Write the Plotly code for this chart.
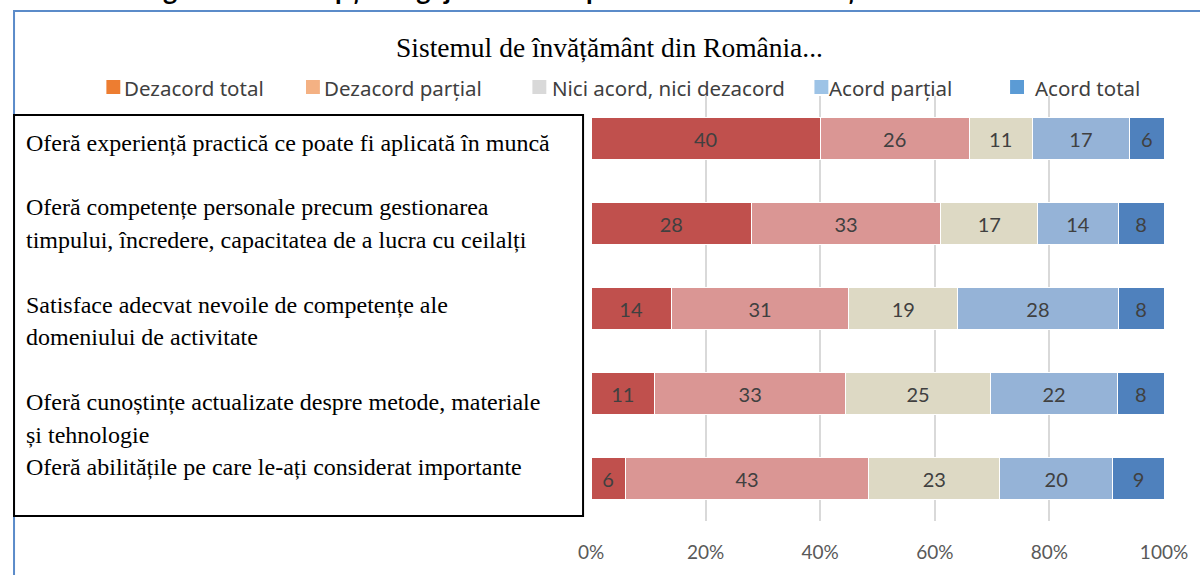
import plotly.graph_objects as go

# chart data (in percent of respondents)
categories = [
    "Oferă experiență practică ce poate fi aplicată în muncă",
    "Oferă competențe personale precum gestionarea timpului, încredere, capacitatea de a lucra cu ceilalți",
    "Satisface adecvat nevoile de competențe ale domeniului de activitate",
    "Oferă cunoștințe actualizate despre metode, materiale și tehnologie",
    "Oferă abilitățile pe care le-ați considerat importante",
]
series_names = ["Dezacord total", "Dezacord parțial", "Nici acord, nici dezacord",
                "Acord parțial", "Acord total"]
dezacord_total = [40, 28, 14, 11, 6]
dezacord_partial = [26, 33, 31, 33, 43]
nici = [11, 17, 19, 25, 23]
acord_partial = [17, 14, 28, 22, 20]
acord_total = [6, 8, 8, 8, 9]
x_ticks = [0, 20, 40, 60, 80, 100]
x_tick_labels = ["0%", "20%", "40%", "60%", "80%", "100%"]

# text of the left-hand box, as it is wrapped in the picture
box_lines = [
    ["Oferă experiență practică ce poate fi aplicată în muncă"],
    ["Oferă competențe personale precum gestionarea",
     "timpului, încredere, capacitatea de a lucra cu ceilalți"],
    ["Satisface adecvat nevoile de competențe ale",
     "domeniului de activitate"],
    ["Oferă cunoștințe actualizate despre metode, materiale",
     "și tehnologie"],
    ["Oferă abilitățile pe care le-ați considerat importante"],
]

chart_title = "Sistemul de învățământ din România..."
figure_title = "Figura 10: Percepția angajatorilor asupra sistemului de învățământ din România"

bar_colors = ["#C0504D", "#DA9694", "#DDD9C4", "#95B3D7", "#4F81BD"]
legend_colors = ["#ED7D31", "#F4B183", "#D9D9D9", "#9DC3E6", "#5B9BD5"]

W_PX, H_PX = 1200, 575
L, R, T, B = 591, 32, 96, 54
PW, PH = W_PX - L - R, H_PX - T - B


def px_x(px):
    return (px - L) / PW


def px_y(py):
    return (H_PX - B - py) / PH


fig = go.Figure()
all_values = [dezacord_total, dezacord_partial, nici, acord_partial, acord_total]
for name, vals, col in zip(series_names, all_values, bar_colors):
    fig.add_trace(go.Bar(
        y=categories, x=vals, name=name, orientation="h",
        marker=dict(color=col, line=dict(color="white", width=1)),
        text=vals, texttemplate="%{text}", textposition="inside",
        insidetextanchor="middle",
        textfont=dict(family="Lato", size=20, color="#404040"),
        showlegend=False,
    ))

shapes = []
annotations = []

# blue frame around the figure
shapes.append(dict(type="path", xref="paper", yref="paper",
                   path=f"M {px_x(10)} {px_y(600)} L {px_x(10)} {px_y(11)} L {px_x(1210)} {px_y(11)}",
                   line=dict(color="#5B8BC9", width=2)))

# black box with row descriptions
shapes.append(dict(type="rect", xref="paper", yref="paper",
                   x0=px_x(10), x1=px_x(583), y0=px_y(516), y1=px_y(115),
                   line=dict(color="black", width=2), fillcolor="rgba(0,0,0,0)"))

line_y = [[143], [207, 240], [305, 337], [402, 435], [467]]
for lines, ys in zip(box_lines, line_y):
    for txt, py in zip(lines, ys):
        annotations.append(dict(text=txt, xref="paper", yref="paper",
                                x=px_x(20), y=px_y(py), xanchor="left", yanchor="middle",
                                showarrow=False,
                                font=dict(family="Liberation Serif", size=24, color="black")))

# custom legend (its colours differ from the bars in the original)
legend_sq_x = [103, 304, 532, 816, 1013]
legend_txt_x = [122, 323, 553, 832, 1039]
for name, col, sx, tx in zip(series_names, legend_colors, legend_sq_x, legend_txt_x):
    shapes.append(dict(type="rect", xref="paper", yref="paper",
                       x0=px_x(sx), x1=px_x(sx + 14), y0=px_y(94), y1=px_y(80),
                       line=dict(width=0), fillcolor=col))
    annotations.append(dict(text=name, xref="paper", yref="paper",
                            x=px_x(tx - 3), y=px_y(88), xanchor="left", yanchor="middle",
                            showarrow=False,
                            font=dict(family="Noto Sans", size=20.5, color="#404040")))

# chart title
annotations.append(dict(text=chart_title, xref="paper", yref="paper",
                        x=px_x(610), y=px_y(48), xanchor="center", yanchor="middle",
                        showarrow=False,
                        font=dict(family="Liberation Serif", size=27.5, color="black")))

# figure caption, cut off at the top of the picture
annotations.append(dict(text="<b>" + figure_title + "</b>", xref="paper", yref="paper",
                        x=px_x(613), y=px_y(-10), xanchor="center", yanchor="middle",
                        showarrow=False,
                        font=dict(family="Lato", size=27, color="black")))

fig.update_layout(
    barmode="stack", barnorm="percent", bargap=0.5,
    width=W_PX, height=H_PX,
    margin=dict(l=L, r=R, t=T, b=B, pad=0),
    paper_bgcolor="white", plot_bgcolor="white",
    shapes=shapes, annotations=annotations,
    showlegend=False,
)
fig.update_xaxes(range=[0, 100], tickvals=x_ticks, ticktext=x_tick_labels,
                 showgrid=True, gridcolor="#D9D9D9", gridwidth=2,
                 zeroline=False, showline=False,
                 ticks="outside", ticklen=14, tickcolor="white",
                 tickfont=dict(family="Lato", size=19, color="#595959"))
fig.update_yaxes(autorange="reversed", showticklabels=False, showgrid=False,
                 zeroline=False, showline=False)

# the page's default body margin would shift the figure by 8px
fig.write_html("out.html", config={"displayModeBar": False},
               post_script="document.body.style.margin='0';")
